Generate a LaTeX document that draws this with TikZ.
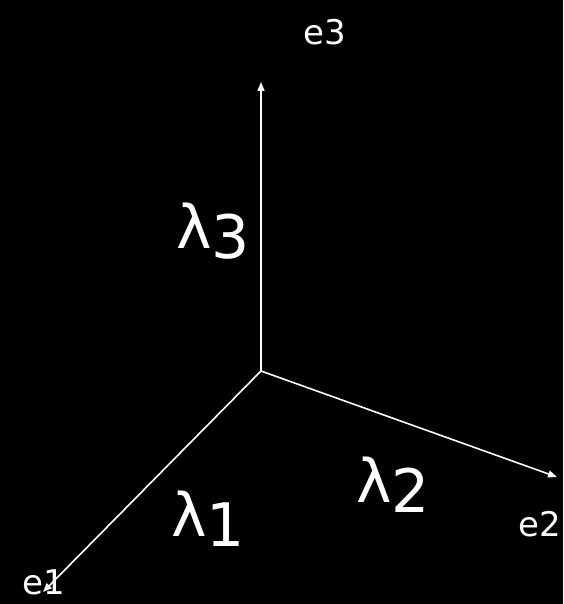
\documentclass[tikz,border=0pt]{standalone}
\usepackage{fontspec}
\setmainfont{DejaVu Sans}
\usetikzlibrary{arrows.meta}
\begin{document}
\begin{tikzpicture}[x=1pt,y=-1pt,
  axis/.style={draw=white,line width=1.6pt,-{Triangle[width=7pt,length=9pt]}},
  elab/.style={text=white,font=\fontsize{34}{34}\selectfont,inner sep=0pt},
  llab/.style={text=white,font=\fontsize{60}{60}\selectfont,inner sep=0pt}]
\fill[black] (0,0) rectangle (563,604);
\useasboundingbox (0,0) rectangle (563,604);
\coordinate (o) at (261,371);
\coordinate (t3) at (261,82);
\coordinate (t2) at (557,477);
\coordinate (t1) at (43,592);
\draw[axis] (o) -- (t3);
\draw[axis] (o) -- (t2);
\draw[axis] (o) -- (t1);
\node[elab] (e3) at (325,32) {e3};
\node[elab] (e2) at (540,524) {e2};
\node[elab] (e1) at (44,582) {e1};
\node[llab] (l3) at (213,231) {λ\raisebox{-0.3ex}{3}};
\node[llab] (l1) at (208,519) {λ\raisebox{-0.3ex}{1}};
\node[llab] (l2) at (393,485) {λ\raisebox{-0.3ex}{2}};
\end{tikzpicture}
\end{document}
